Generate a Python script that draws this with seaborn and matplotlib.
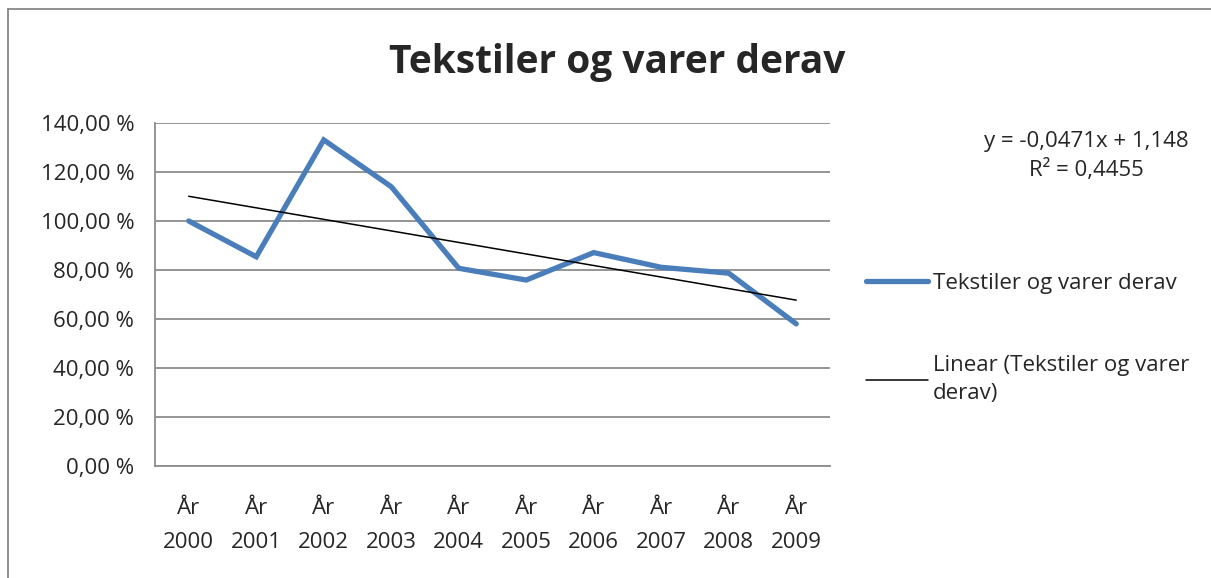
import numpy as np
import pandas as pd
import matplotlib.pyplot as plt
import seaborn as sns
from matplotlib.lines import Line2D
from matplotlib.ticker import FuncFormatter, FixedLocator

sns.set_style('white')
plt.rcParams['font.family'] = ['Open Sans', 'DejaVu Sans']

# Data
years = ['2000', '2001', '2002', '2003', '2004', '2005', '2006', '2007', '2008', '2009']
values = [1.000, 0.854, 1.331, 1.140, 0.807, 0.759, 0.871, 0.811, 0.787, 0.580]
trend_slope = -0.0471
trend_intercept = 1.148
r_squared = 0.4455
series_name = 'Tekstiler og varer derav'

labels = ['År\n' + y for y in years]
df = pd.DataFrame({'label': labels, 'value': values})
pos = np.arange(len(labels))
df_trend = pd.DataFrame({'x': pos, 'trend': trend_slope * (pos + 1) + trend_intercept})

fig = plt.figure(figsize=(12.11, 5.78), dpi=100)
ax = fig.add_axes([155 / 1211, 1 - 466 / 578, (830 - 155) / 1211, (466 - 123) / 578])

blue = '#4A7EBB'
grid_c = '#8C8C8C'
fs = 16

sns.lineplot(data=df, x='label', y='value', ax=ax, color=blue, linewidth=3.8,
             solid_capstyle='round', solid_joinstyle='miter', sort=False)
sns.lineplot(data=df_trend, x='x', y='trend', ax=ax, color='black', linewidth=1.1)

ax.set_xlim(-0.5, len(labels) - 0.5)
ax.set_ylim(0, 1.4)
ax.set_yticks(np.arange(0, 1.41, 0.2))
ax.yaxis.set_major_formatter(FuncFormatter(lambda v, p: f'{v * 100:.2f} %'.replace('.', ',')))
ax.grid(axis='y', color=grid_c, linewidth=1.3)
ax.set_axisbelow(True)

ax.set_xticks(pos)
ax.set_xticklabels(labels, linespacing=1.8)
ax.xaxis.set_minor_locator(FixedLocator(np.arange(-0.5, len(labels), 1)))
ax.tick_params(axis='x', which='major', length=0, pad=23, labelsize=fs)
ax.tick_params(axis='x', which='minor', length=6, color=grid_c, width=1.2, direction='out')
ax.tick_params(axis='y', length=8, color=grid_c, width=1.2, direction='out', pad=7, labelsize=fs)
ax.set_xlabel('')
ax.set_ylabel('')

for s in ['top', 'right']:
    ax.spines[s].set_visible(False)
for s in ['left', 'bottom']:
    ax.spines[s].set_color(grid_c)
    ax.spines[s].set_linewidth(1.3)

fig.text(617 / 1211, 1 - 62 / 578, series_name, ha='center', va='center',
         fontsize=28, fontweight='bold')

fig.text(1086 / 1211, 1 - 156 / 578,
         f'y = {trend_slope}x + {trend_intercept}'.replace('.', ',') + '\n' +
         f'R² = {r_squared}'.replace('.', ','),
         ha='center', va='center', fontsize=fs, linespacing=1.4)

handles = [Line2D([], [], color=blue, linewidth=3.8, solid_capstyle='round'),
           Line2D([], [], color='black', linewidth=1.1)]
leg = fig.legend(handles, [series_name, 'Linear (Tekstiler og varer\nderav)'],
                 loc='upper left', bbox_to_anchor=(866 / 1211, 1 - 273 / 578),
                 frameon=False, fontsize=fs, handlelength=2.8, handletextpad=0.2,
                 labelspacing=2.75, borderaxespad=0, borderpad=0)
leg.get_texts()[1].set_linespacing(1.45)

# chart area frame
fig.add_artist(Line2D([8 / 1211, 1], [1 - 9 / 578, 1 - 9 / 578], color='#888888', linewidth=1.3))
fig.add_artist(Line2D([8 / 1211, 8 / 1211], [0, 1 - 9 / 578], color='#888888', linewidth=1.3))

fig.savefig('out.png', dpi=100, facecolor='white')
